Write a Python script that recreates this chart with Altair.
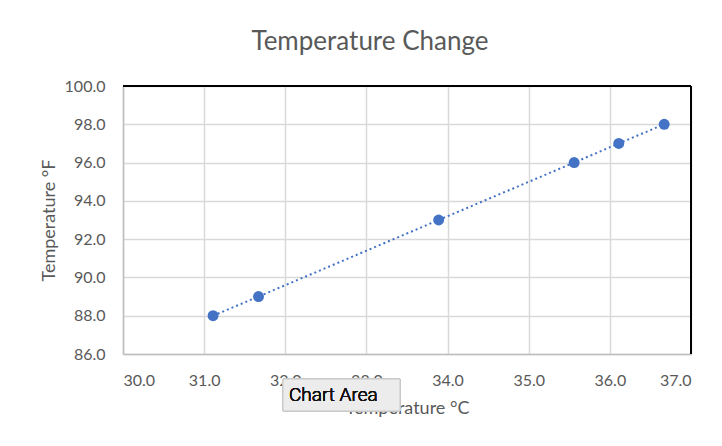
import altair as alt
import pandas as pd

celsius = [31.11, 31.67, 33.89, 35.56, 36.11, 36.67]
fahrenheit = [88.0, 89.0, 93.0, 96.0, 97.0, 98.0]
x_ticks = [30, 31, 32, 33, 34, 35, 36, 37]
y_ticks = [86, 88, 90, 92, 94, 96, 98, 100]

df = pd.DataFrame({"c": celsius, "f": fahrenheit})

W, H = 568, 268
FONT = "Lato"
GREY = "#595959"
BLUE = "#4472C4"

xenc = alt.X("c:Q", title="Temperature °C",
             scale=alt.Scale(domain=[30, 37], nice=False, zero=False),
             axis=alt.Axis(values=x_ticks, format=".1f", labelPadding=18, titlePadding=11,
                           labelOverlap=False))
yenc = alt.Y("f:Q", title="Temperature °F",
             scale=alt.Scale(domain=[86, 100], nice=False, zero=False),
             axis=alt.Axis(values=y_ticks, format=".1f", labelPadding=18, titlePadding=6,
                           labelOverlap=False))

base = alt.Chart(df).encode(x=xenc, y=yenc)
line = base.mark_line(color=BLUE, strokeWidth=2, strokeDash=[2, 3])
pts = base.mark_circle(color=BLUE, size=120, opacity=1)

top_rule = alt.Chart(df).mark_rule(color="black", strokeWidth=2).encode(
    x=alt.value(0), x2=alt.value(W), y=alt.value(0))
right_rule = alt.Chart(df).mark_rule(color="black", strokeWidth=2).encode(
    x=alt.value(W), y=alt.value(0), y2=alt.value(H))

tip_box = alt.Chart(df).mark_rect(fill="#ececec", stroke="#c8c8c8", strokeWidth=1).encode(
    x=alt.value(160), x2=alt.value(277), y=alt.value(293), y2=alt.value(325))
tip_text = alt.Chart(df).mark_text(text="Chart Area", font="Roboto", fontSize=19,
                                   fontWeight=300, color="#111111", align="left",
                                   baseline="middle").encode(
    x=alt.value(166), y=alt.value(309))

chart = (line + pts + top_rule + right_rule + tip_box + tip_text).properties(
    width=W, height=H,
    background="white",
    title=alt.TitleParams("Temperature Change", fontSize=26, font=FONT, color=GREY,
                          fontWeight="normal", anchor="middle", dx=-37, offset=23),
    autosize=alt.AutoSizeParams(type="none"),
    padding={"left": 115, "top": 78, "right": 20, "bottom": 80},
).configure_view(stroke=None).configure_axis(
    grid=True, gridColor="#d9d9d9", gridWidth=1.5,
    domainColor="#bfbfbf", domainWidth=1.5, ticks=False,
    labelFont=FONT, labelFontSize=16, labelColor=GREY,
    titleFont=FONT, titleFontSize=18, titleColor=GREY, titleFontWeight="normal",
)

chart.save("out.html", embed_options={"renderer": "svg", "actions": False})
